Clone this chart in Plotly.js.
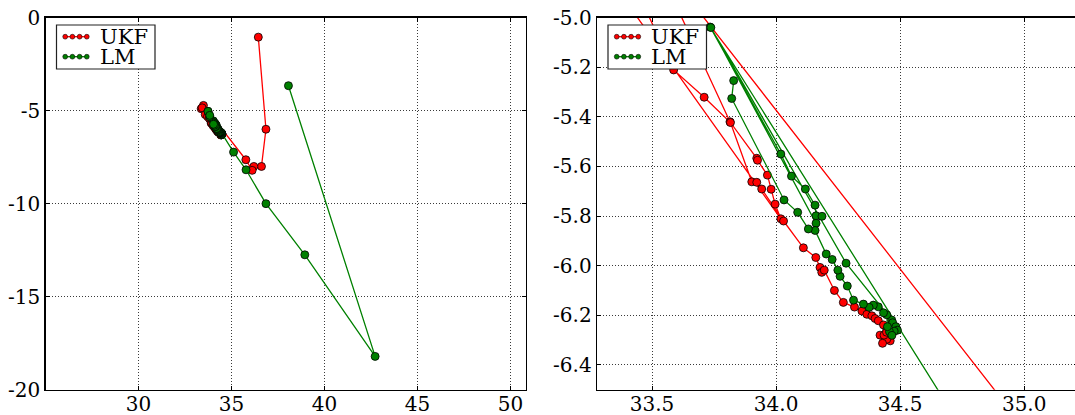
<!DOCTYPE html>
<html>
<head>
<meta charset="utf-8">
<script src="https://cdn.plot.ly/plotly-3.0.1.min.js"></script>
<style>
html,body{margin:0;padding:0;overflow:hidden;background:#fff;}
#chart{width:1080px;height:415px;}
</style>
</head>
<body>
<div id="chart"></div>
<script>
// ---- data ----
const seriesNames = ["UKF", "LM"];
const ukfX = [36.44, 36.85, 36.61, 36.20, 36.11, 35.77, 33.49, 33.814, 33.922, 33.925, 33.965, 33.980, 33.996, 34.019, 33.37, 33.42, 33.587, 33.710, 33.816, 33.902, 33.922, 33.942, 34.030, 34.110, 34.160, 34.177, 34.184, 34.194, 34.235, 34.271, 34.316, 34.346, 34.366, 34.386, 34.399, 34.412, 34.433, 34.446, 34.460, 34.446, 34.429, 34.419, 34.435, 34.445];
const ukfY = [-1.05, -6.00, -8.00, -8.00, -8.21, -7.64, -4.72, -5.420, -5.567, -5.575, -5.635, -5.692, -5.752, -5.811, -4.90, -4.85, -5.211, -5.321, -5.423, -5.662, -5.664, -5.691, -5.820, -5.928, -5.967, -6.007, -6.027, -6.018, -6.100, -6.148, -6.167, -6.183, -6.196, -6.202, -6.213, -6.222, -6.239, -6.260, -6.303, -6.297, -6.313, -6.280, -6.280, -6.268];
const lmX = [38.06, 42.72, 38.94, 36.85, 35.78, 35.11, 33.734, 34.019, 34.062, 34.118, 34.157, 34.161, 34.185, 34.161, 33.737, 34.282, 34.466, 34.470, 34.483, 34.489, 34.476, 34.457, 34.467, 34.449, 34.446, 34.433, 34.412, 34.392, 34.375, 34.352, 34.312, 34.287, 34.258, 34.249, 34.226, 34.202, 34.157, 34.130, 34.087, 34.032, 33.821, 33.829];
const lmY = [-3.66, -18.21, -12.75, -10.00, -8.18, -7.23, -5.038, -5.550, -5.639, -5.691, -5.756, -5.799, -5.801, -5.829, -5.040, -5.990, -6.219, -6.230, -6.246, -6.260, -6.264, -6.266, -6.281, -6.246, -6.198, -6.190, -6.166, -6.159, -6.168, -6.155, -6.139, -6.082, -6.043, -6.018, -5.975, -5.953, -5.858, -5.852, -5.785, -5.735, -5.326, -5.254];

// tick labels
const leftXTicks = [30, 35, 40, 45, 50];
const leftXText = ["30", "35", "40", "45", "50"];
const leftYTicks = [0, -5, -10, -15, -20];
const leftYText = ["0", "-5", "-10", "-15", "-20"];
const rightXTicks = [33.5, 34.0, 34.5, 35.0];
const rightXText = ["33.5", "34.0", "34.5", "35.0"];
const rightYTicks = [-5.0, -5.2, -5.4, -5.6, -5.8, -6.0, -6.2, -6.4];
const rightYText = ["-5.0", "-5.2", "-5.4", "-5.6", "-5.8", "-6.0", "-6.2", "-6.4"];

// ---- styles / layout ----
const W = 1080, H = 415;
const RED = "#ff0000", GREEN = "#008000";
const FONT = "DejaVu Serif";
function fx(p){ return p / W; }
function fy(p){ return 1 - p / H; }

function trace(x, y, name, color, xa, ya){
  return {
    type: "scatter", mode: "lines+markers", x: x, y: y, name: name,
    xaxis: xa, yaxis: ya, showlegend: false, hoverinfo: "skip",
    line: {color: color, width: 1.3},
    marker: {color: color, size: 8, line: {color: "black", width: 0.8}}
  };
}

const data = [
  trace(ukfX, ukfY, seriesNames[0], RED, "x", "y"),
  trace(lmX, lmY, seriesNames[1], GREEN, "x", "y"),
  trace(ukfX, ukfY, seriesNames[0], RED, "x2", "y2"),
  trace(lmX, lmY, seriesNames[1], GREEN, "x2", "y2")
];

function axis(extra){
  return Object.assign({
    showline: true, linecolor: "black", linewidth: 1.3, mirror: "allticks",
    ticks: "inside", ticklen: 4, tickwidth: 1, tickcolor: "black",
    showgrid: true, gridcolor: "#3a3a3a", gridwidth: 1, griddash: "1px,2px",
    zeroline: false, tickmode: "array", automargin: false, fixedrange: true,
    tickfont: {family: FONT, size: 20, color: "black"}
  }, extra);
}

const yDom = [25.3 / H, 397.4 / H];
const leftL = 45.5, leftR = 526, rightL = 597, rightR = 1077.5;

// legend drawn as layout decoration
const shapes = [], annotations = [];
function addLegend(ax){
  const bx0 = ax + 11, bx1 = ax + 109.5, by0 = 25, by1 = 69;
  shapes.push({type: "rect", xref: "paper", yref: "paper",
    x0: fx(bx0), x1: fx(bx1), y0: fy(by1), y1: fy(by0),
    fillcolor: "white", line: {color: "#222", width: 1.2}, layer: "above"});
  const rows = [[seriesNames[0], RED, 36.7], [seriesNames[1], GREEN, 56.7]];
  rows.forEach(function(r){
    const gx0 = ax + 19.7, gx1 = ax + 41.3;
    shapes.push({type: "line", xref: "paper", yref: "paper",
      x0: fx(gx0), x1: fx(gx1), y0: fy(r[2]), y1: fy(r[2]),
      line: {color: r[1], width: 1.3}, layer: "above"});
    for (let k = 0; k < 4; k++){
      const cx = gx0 + k * (gx1 - gx0) / 3;
      shapes.push({type: "circle", xref: "paper", yref: "paper",
        xsizemode: "pixel", ysizemode: "pixel",
        xanchor: fx(cx), yanchor: fy(r[2]),
        x0: -2.4, x1: 2.4, y0: -2.4, y1: 2.4,
        fillcolor: r[1], line: {color: "black", width: 0.6}, layer: "above"});
    }
    annotations.push({xref: "paper", yref: "paper", x: fx(ax + 52), y: fy(r[2] + 0.5),
      xanchor: "left", yanchor: "middle", showarrow: false, text: r[0],
      font: {family: FONT, size: 21, color: "black"}});
  });
}
addLegend(leftL);
addLegend(rightL);

const layout = {
  width: W, height: H,
  margin: {l: 0, r: 0, t: 0, b: 0},
  paper_bgcolor: "white", plot_bgcolor: "white",
  showlegend: false,
  xaxis: axis({domain: [fx(leftL), fx(leftR)], range: [25.0, 50.83], tickvals: leftXTicks, ticktext: leftXText, anchor: "y", ticklabelstandoff: -4}),
  yaxis: axis({domain: yDom, range: [-20, 0], tickvals: leftYTicks, ticktext: leftYText, anchor: "x"}),
  xaxis2: axis({domain: [fx(rightL), fx(rightR)], range: [33.278, 35.215], tickvals: rightXTicks, ticktext: rightXText, anchor: "y2", ticklabelstandoff: -4}),
  yaxis2: axis({domain: yDom, range: [-6.5, -5.0], tickvals: rightYTicks, ticktext: rightYText, anchor: "x2"}),
  shapes: shapes,
  annotations: annotations
};

Plotly.newPlot("chart", data, layout, {displayModeBar: false, staticPlot: true});
</script>
</body>
</html>
